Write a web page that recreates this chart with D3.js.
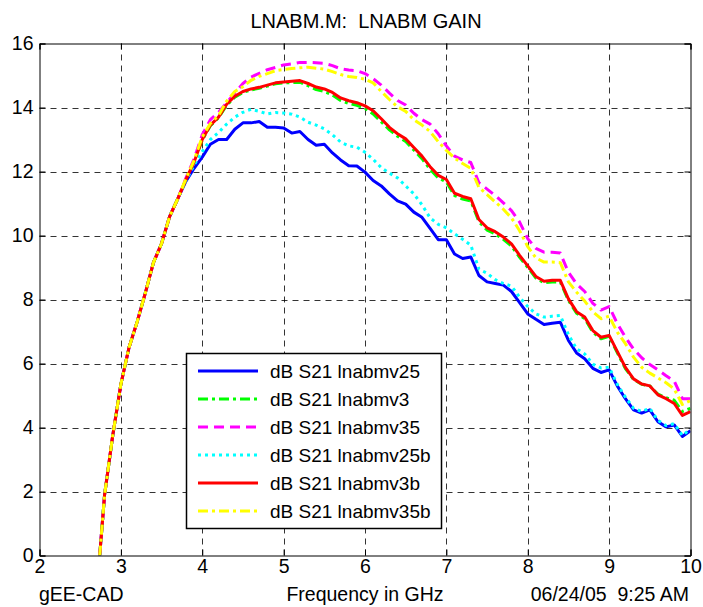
<!DOCTYPE html>
<html>
<head>
<meta charset="utf-8">
<script src="https://cdn.jsdelivr.net/npm/d3@7"></script>
<style>
  body { margin: 0; background: #fff; }
  svg text { font-family: "Liberation Sans", Arial, sans-serif; fill: #000; }
</style>
</head>
<body>
<svg id="chart" width="703" height="607"></svg>
<script>
// frequency points (GHz)
const freq = [2.74, 2.8, 2.9, 3.0, 3.1, 3.2, 3.3, 3.4, 3.5, 3.6, 3.7, 3.8, 3.9, 4.0,
  4.1, 4.2, 4.3, 4.4, 4.5, 4.6, 4.7, 4.8, 4.9, 5.0, 5.1, 5.2, 5.3, 5.4, 5.5, 5.6, 5.7, 5.8, 5.9, 6.0,
  6.1, 6.2, 6.3, 6.4, 6.5, 6.6, 6.7, 6.8, 6.9, 7.0, 7.1, 7.2, 7.3, 7.4, 7.5, 7.6, 7.7, 7.8, 7.9, 8.0,
  8.1, 8.2, 8.3, 8.4, 8.5, 8.6, 8.7, 8.8, 8.9, 9.0, 9.1, 9.2, 9.3, 9.4, 9.5, 9.6, 9.7, 9.8, 9.9, 10.0];

const s21_v25 = [0, 1.9, 3.75, 5.35, 6.5, 7.3, 8.2, 9.15, 9.75, 10.6, 11.15, 11.7, 12.1, 12.45,
  12.85, 13.0, 13.0, 13.32, 13.52, 13.52, 13.56, 13.38, 13.38, 13.36, 13.2, 13.25, 13.0, 12.82, 12.85, 12.58, 12.36, 12.18, 12.17, 11.98,
  11.72, 11.55, 11.3, 11.08, 10.98, 10.73, 10.57, 10.22, 9.87, 9.87, 9.42, 9.28, 9.33, 8.75, 8.55, 8.5, 8.45, 8.25, 7.9, 7.55,
  7.38, 7.22, 7.26, 7.29, 6.72, 6.33, 6.15, 5.85, 5.72, 5.8, 5.3, 4.9, 4.55, 4.45, 4.55, 4.18, 4.02, 4.08, 3.72, 3.9];

const s21_v3 = [0, 1.9, 3.75, 5.35, 6.5, 7.3, 8.2, 9.15, 9.75, 10.6, 11.15, 11.75, 12.3, 12.98,
  13.43, 13.68, 14.07, 14.32, 14.47, 14.55, 14.6, 14.67, 14.74, 14.77, 14.78, 14.79, 14.68, 14.56, 14.5, 14.39, 14.22, 14.13, 14.07, 13.97,
  13.8, 13.55, 13.3, 13.1, 12.94, 12.67, 12.4, 12.07, 11.8, 11.67, 11.25, 11.14, 11.08, 10.43, 10.17, 10.05, 9.88, 9.67, 9.32, 9.0,
  8.67, 8.52, 8.55, 8.55, 7.97, 7.57, 7.4, 6.98, 6.77, 6.85, 6.34, 5.84, 5.5, 5.35, 5.3, 5.04, 4.93, 4.85, 4.5, 4.6];

const s21_v35 = [0, 1.9, 3.75, 5.35, 6.5, 7.3, 8.2, 9.15, 9.75, 10.6, 11.15, 11.8, 12.4, 13.15,
  13.62, 13.85, 14.15, 14.45, 14.75, 14.95, 15.07, 15.18, 15.25, 15.33, 15.36, 15.41, 15.41, 15.4, 15.38, 15.31, 15.21, 15.17, 15.15, 15.06,
  14.9, 14.7, 14.45, 14.22, 14.08, 13.82, 13.62, 13.48, 13.18, 12.8, 12.48, 12.36, 12.28, 11.65, 11.45, 11.25, 11.02, 10.78, 10.42, 9.9,
  9.6, 9.48, 9.48, 9.45, 8.85, 8.49, 8.25, 7.88, 7.67, 7.78, 7.25, 6.82, 6.45, 6.18, 5.97, 5.8, 5.62, 5.45, 4.9, 4.9];

const s21_v25b = [0, 1.9, 3.75, 5.35, 6.5, 7.3, 8.2, 9.15, 9.75, 10.6, 11.15, 11.72, 12.2, 12.62,
  13.0, 13.22, 13.48, 13.7, 13.85, 13.94, 13.88, 13.8, 13.84, 13.83, 13.79, 13.7, 13.54, 13.45, 13.33, 13.15, 12.92, 12.8, 12.76, 12.6,
  12.38, 12.12, 11.95, 11.8, 11.55, 11.3, 10.96, 10.55, 10.35, 10.24, 10.05, 9.88, 9.7, 8.95, 8.82, 8.62, 8.5, 8.42, 8.07, 7.78,
  7.55, 7.45, 7.48, 7.5, 6.9, 6.46, 6.3, 5.98, 5.86, 5.88, 5.35, 4.95, 4.6, 4.5, 4.6, 4.22, 4.06, 4.12, 3.75, 3.95];

const s21_v3b = [0, 1.9, 3.75, 5.35, 6.5, 7.3, 8.2, 9.15, 9.75, 10.6, 11.15, 11.75, 12.3, 13.0,
  13.45, 13.7, 14.1, 14.35, 14.5, 14.58, 14.63, 14.7, 14.77, 14.8, 14.82, 14.84, 14.75, 14.64, 14.58, 14.47, 14.3, 14.21, 14.15, 14.05,
  13.9, 13.65, 13.38, 13.18, 13.02, 12.75, 12.48, 12.15, 11.88, 11.75, 11.32, 11.22, 11.15, 10.5, 10.24, 10.12, 9.95, 9.74, 9.38, 9.05,
  8.72, 8.57, 8.6, 8.6, 8.02, 7.62, 7.45, 7.03, 6.82, 6.88, 6.38, 5.88, 5.52, 5.36, 5.3, 5.02, 4.9, 4.75, 4.38, 4.5];

const s21_v35b = [0, 1.9, 3.75, 5.35, 6.5, 7.3, 8.2, 9.15, 9.75, 10.6, 11.15, 11.78, 12.35, 13.08,
  13.5, 13.75, 14.2, 14.5, 14.65, 14.85, 14.97, 15.06, 15.15, 15.19, 15.22, 15.24, 15.26, 15.23, 15.2, 15.12, 15.03, 14.97, 14.94, 14.88,
  14.77, 14.5, 14.25, 14.02, 13.88, 13.62, 13.45, 13.25, 12.93, 12.66, 12.42, 12.25, 12.1, 11.5, 11.28, 11.05, 10.82, 10.55, 10.15, 9.65,
  9.3, 9.17, 9.17, 9.15, 8.55, 8.23, 7.95, 7.62, 7.4, 7.48, 6.98, 6.62, 6.2, 5.88, 5.7, 5.55, 5.4, 5.2, 4.72, 4.84];

const seriesNames = ["dB S21 lnabmv25", "dB S21 lnabmv3", "dB S21 lnabmv35",
  "dB S21 lnabmv25b", "dB S21 lnabmv3b", "dB S21 lnabmv35b"];
const seriesValues = [s21_v25, s21_v3, s21_v35, s21_v25b, s21_v3b, s21_v35b];
const seriesColors = ["#0000ff", "#00ff00", "#ff00ff", "#00ffff", "#ff0000", "#ffff00"];
const seriesDash = [null, "10,4,3,4", "10,6", "3,4", null, "10,4,3,4"];

const xTicks = [2, 3, 4, 5, 6, 7, 8, 9, 10];
const yTicks = [0, 2, 4, 6, 8, 10, 12, 14, 16];

const svg = d3.select("#chart");
const plotLeft = 39.5, plotRight = 690.5, plotTop = 43.5, plotBottom = 555.5;
const fontPx = 19.5;

const x = d3.scaleLinear().domain([2, 10]).range([plotLeft, plotRight]);
const y = d3.scaleLinear().domain([0, 16]).range([plotBottom, plotTop]);

// grid
const grid = svg.append("g")
  .attr("stroke", "#000")
  .attr("stroke-width", 1)
  .attr("stroke-dasharray", "6,5")
  .attr("stroke-opacity", 0.8);
xTicks.slice(1, -1).forEach(t => {
  grid.append("line").attr("x1", Math.round(x(t)) + 0.5).attr("x2", Math.round(x(t)) + 0.5)
    .attr("y1", plotTop).attr("y2", plotBottom);
});
yTicks.slice(1, -1).forEach(t => {
  grid.append("line").attr("y1", Math.round(y(t)) + 0.5).attr("y2", Math.round(y(t)) + 0.5)
    .attr("x1", plotLeft).attr("x2", plotRight);
});

// curves
const line = d3.line().x((d, i) => x(freq[i])).y(d => y(d));
svg.append("clipPath").attr("id", "clip")
  .append("rect").attr("x", plotLeft).attr("y", plotTop)
  .attr("width", plotRight - plotLeft).attr("height", plotBottom - plotTop);

const curves = svg.append("g").attr("clip-path", "url(#clip)");
seriesValues.forEach((vals, i) => {
  curves.append("path")
    .datum(vals)
    .attr("d", line)
    .attr("fill", "none")
    .attr("stroke", seriesColors[i])
    .attr("stroke-width", 3)
    .attr("stroke-linejoin", "round")
    .attr("stroke-dasharray", seriesDash[i]);
});

// axes (ticks inside, MATLAB style)
const fmt = d3.format("d");
const axB = svg.append("g").attr("transform", `translate(0,${plotBottom})`)
  .call(d3.axisBottom(x).tickValues(xTicks).tickFormat(fmt).tickSize(-6).tickPadding(4));
const axT = svg.append("g").attr("transform", `translate(0,${plotTop})`)
  .call(d3.axisTop(x).tickValues(xTicks).tickFormat("").tickSize(-6));
const axL = svg.append("g").attr("transform", `translate(${plotLeft},0)`)
  .call(d3.axisLeft(y).tickValues(yTicks).tickFormat(fmt).tickSize(-6).tickPadding(6));
const axR = svg.append("g").attr("transform", `translate(${plotRight},0)`)
  .call(d3.axisRight(y).tickValues(yTicks).tickFormat("").tickSize(-6));

[axB, axT, axL, axR].forEach(a => {
  a.select(".domain").attr("stroke", "#000").attr("stroke-width", 1);
  a.selectAll(".tick line").attr("stroke", "#000");
  a.selectAll("text").attr("font-size", fontPx).style("font-family", '"Liberation Sans", Arial, sans-serif');
});

// legend
const lg = svg.append("g");
lg.append("rect").attr("x", 186.5).attr("y", 353.5).attr("width", 255).attr("height", 175)
  .attr("fill", "#fff").attr("stroke", "#000").attr("stroke-width", 1.5);
seriesNames.forEach((name, i) => {
  const yy = 371 + i * 28;
  lg.append("line").attr("x1", 198).attr("x2", 258).attr("y1", yy).attr("y2", yy)
    .attr("stroke", seriesColors[i]).attr("stroke-width", 3)
    .attr("stroke-dasharray", seriesDash[i]);
  lg.append("text").attr("x", 270).attr("y", yy + 6.5).attr("font-size", 19).text(name);
});

// labels
svg.append("text").attr("x", 366).attr("y", 28).attr("text-anchor", "middle")
  .attr("font-size", 20).style("white-space", "pre").text("LNABM.M:  LNABM GAIN");
svg.append("text").attr("x", 39).attr("y", 601).attr("font-size", fontPx).text("gEE-CAD");
svg.append("text").attr("x", 365).attr("y", 601).attr("text-anchor", "middle")
  .attr("font-size", fontPx).text("Frequency in GHz");
svg.append("text").attr("x", 689).attr("y", 601).attr("text-anchor", "end")
  .attr("font-size", fontPx).style("white-space", "pre").text("06/24/05  9:25 AM");
</script>
</body>
</html>
